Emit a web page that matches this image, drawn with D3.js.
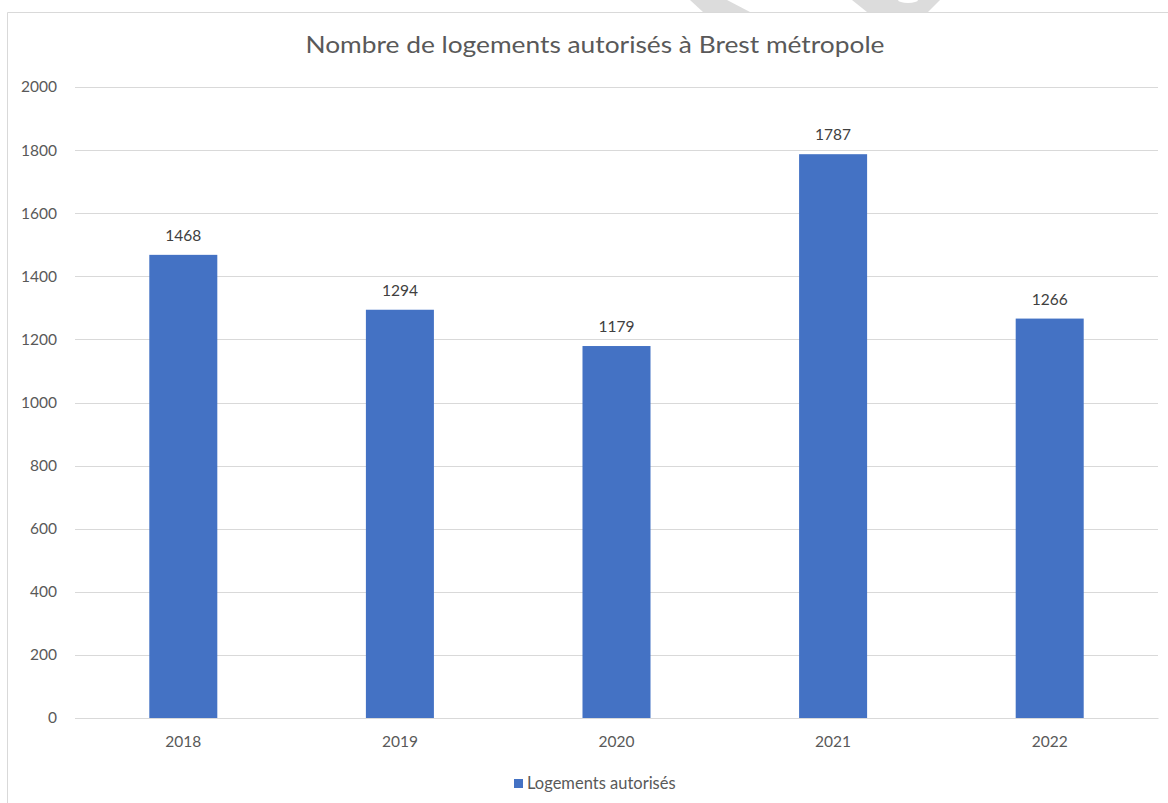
<!DOCTYPE html>
<html><head><meta charset="utf-8">
<script src="https://cdn.jsdelivr.net/npm/d3@7"></script>
<style>body{margin:0;background:#fff;} svg{display:block;}</style>
</head><body>
<script>
const title = "Nombre de logements autorisés à Brest métropole";
const years = ["2018","2019","2020","2021","2022"];
const values = [1468,1294,1179,1787,1266];
const yTicks = [0,200,400,600,800,1000,1200,1400,1600,1800,2000];
const seriesName = "Logements autorisés";

const W=1168,H=803;
const svg=d3.select("body").append("svg").attr("width",W).attr("height",H);
const font="Lato, 'Open Sans', sans-serif";

// watermark fragments at top
svg.append("path").attr("d","M690,0 L727,0 L750,12 L703,12 Z").attr("fill","#dcdcdc");
svg.append("path").attr("d","M852,0 L940,0 L928,12 L867,12 Z").attr("fill","#dcdcdc");
svg.append("ellipse").attr("cx",908).attr("cy",0).attr("rx",10).attr("ry",3).attr("fill","#fff");

// frame
svg.append("path").attr("d","M7.5,803 L7.5,12.5 L1168,12.5").attr("fill","none").attr("stroke","#d9d9d9").attr("stroke-width",1);

const x=d3.scaleBand().domain(years).range([75,1158]).paddingInner(0.686).paddingOuter(0.343);
const y=d3.scaleLinear().domain([0,2000]).range([718,87]);

// grid
svg.append("g").selectAll("line").data(yTicks).join("line")
 .attr("x1",75).attr("x2",1158).attr("y1",d=>Math.round(y(d))+0.5).attr("y2",d=>Math.round(y(d))+0.5)
 .attr("stroke","#d9d9d9").attr("stroke-width",1);

// y axis labels
const ya=svg.append("g").attr("transform","translate(57,0)")
 .call(d3.axisLeft(y).tickValues(yTicks).tickFormat(d3.format("d")).tickSize(0).tickPadding(0));
ya.select(".domain").remove();
ya.selectAll("text").attr("font-family",font).attr("font-size",15.5).attr("fill","#595959");

// bars
svg.append("g").selectAll("rect").data(values).join("rect")
 .attr("x",(d,i)=>x(years[i])).attr("width",x.bandwidth())
 .attr("y",d=>y(d)).attr("height",d=>y(0)-y(d)).attr("fill","#4472C4");

// value labels
svg.append("g").selectAll("text").data(values).join("text")
 .attr("x",(d,i)=>x(years[i])+x.bandwidth()/2).attr("y",d=>y(d)-14)
 .attr("text-anchor","middle").attr("font-family",font).attr("font-size",15.5).attr("fill","#404040").text(d=>d);

// x axis
const xa=svg.append("g").attr("transform","translate(0,718)").call(d3.axisBottom(x).tickSize(0).tickPadding(18));
xa.select(".domain").attr("stroke","#d9d9d9");
xa.selectAll("text").attr("font-family",font).attr("font-size",15.5).attr("fill","#595959");

// title
svg.append("text").attr("x",595).attr("y",53).attr("text-anchor","middle")
 .attr("font-family",font).attr("font-size",24).attr("fill","#595959")
 .attr("textLength",579).attr("lengthAdjust","spacingAndGlyphs").text(title);

// legend
const lg=svg.append("g");
lg.append("rect").attr("x",514).attr("y",779).attr("width",9).attr("height",9).attr("fill","#4472C4");
lg.append("text").attr("x",527).attr("y",789).attr("font-family",font).attr("font-size",16.5).attr("fill","#595959").text(seriesName);
</script>
</body></html>
